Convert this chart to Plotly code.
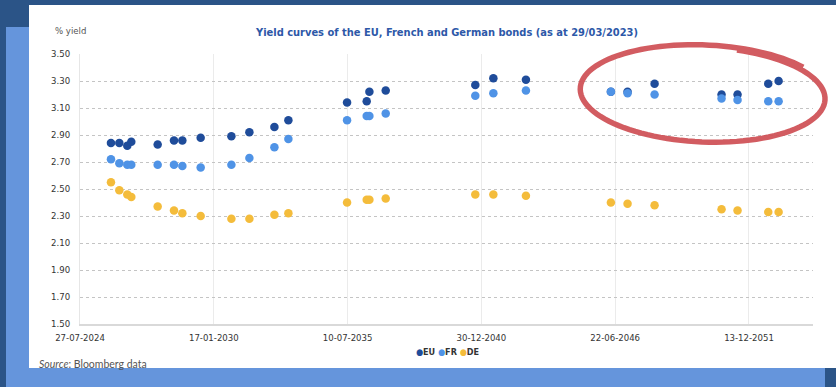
import math
import plotly.graph_objects as go

# ---------------- data ----------------
maturity = ["2025-11-02", "2026-03-07", "2026-07-04", "2026-09-02", "2027-10-01",
            "2028-06-01", "2028-10-04", "2029-07-05", "2030-10-07", "2031-07-03",
            "2032-07-11", "2033-02-05", "2035-07-02", "2036-04-21", "2036-05-31",
            "2037-01-30", "2040-09-30", "2041-06-27", "2042-10-27", "2046-04-19",
            "2046-12-24", "2048-02-01", "2050-10-29", "2051-06-25", "2052-09-26",
            "2053-02-28"]
eu = [2.84, 2.84, 2.82, 2.85, 2.83, 2.86, 2.86, 2.88, 2.89, 2.92, 2.96, 3.01,
      3.14, 3.15, 3.22, 3.23, 3.27, 3.32, 3.31, 3.22, 3.22, 3.28, 3.20, 3.20,
      3.28, 3.30]
fr = [2.72, 2.69, 2.68, 2.68, 2.68, 2.68, 2.67, 2.66, 2.68, 2.73, 2.81, 2.87,
      3.01, 3.04, 3.04, 3.06, 3.19, 3.21, 3.23, 3.22, 3.21, 3.20, 3.17, 3.16,
      3.15, 3.15]
de = [2.55, 2.49, 2.46, 2.44, 2.37, 2.34, 2.32, 2.30, 2.28, 2.28, 2.31, 2.32,
      2.40, 2.42, 2.42, 2.43, 2.46, 2.46, 2.45, 2.40, 2.39, 2.38, 2.35, 2.34,
      2.33, 2.33]

x_ticks = ["2024-07-27", "2030-01-17", "2035-07-10", "2040-12-30", "2046-06-22", "2051-12-13"]
x_tick_labels = ["27-07-2024", "17-01-2030", "10-07-2035", "30-12-2040", "22-06-2046", "13-12-2051"]
y_ticks = [1.50, 1.70, 1.90, 2.10, 2.30, 2.50, 2.70, 2.90, 3.10, 3.30, 3.50]

series_names = ["EU", "FR", "DE"]
series_colors = ["#1f4c9a", "#4f93e6", "#f4bc3b"]

# ---------------- layout geometry ----------------
W, H = 836, 387
L, R, T, B = 80, 23, 54, 63
PW, PH = W - L - R, H - T - B

def px(x):
    return (x - L) / PW

def py(y):
    return (H - B - y) / PH

NARROW = "Liberation Sans Narrow, Arial Narrow, DejaVu Sans Condensed, sans-serif"

fig = go.Figure()
for name, vals, col in zip(series_names, [eu, fr, de], series_colors):
    fig.add_trace(go.Scatter(x=maturity, y=vals, mode="markers", name=name,
                             marker=dict(size=8.5, color=col), showlegend=False))

DARK = "#2b5487"
LIGHT = "#6595dc"
shapes = [
    dict(type="rect", xref="paper", yref="paper", x0=px(6), x1=px(29), y0=py(387), y1=py(27),
         fillcolor=LIGHT, line_width=0, layer="below"),
    dict(type="rect", xref="paper", yref="paper", x0=px(6), x1=px(825), y0=py(387), y1=py(368),
         fillcolor=LIGHT, line_width=0, layer="below"),
    dict(type="rect", xref="paper", yref="paper", x0=px(29), x1=px(836), y0=py(368), y1=py(5),
         fillcolor="white", line_width=0, layer="below"),
]

# hand drawn red ellipse (annotation decoration)
cx, cy, rx, ry, rot = 704, 94, 120, 47, math.radians(2.5)
pts = []
n = 120
start = math.radians(-75)
for i in range(n + 1):
    t = start + 2 * math.pi * 1.1 * i / n
    k = 1 + 0.05 * i / n
    ex, ey = rx * k * math.cos(t), ry * k * math.sin(t)
    X = cx + ex * math.cos(rot) - ey * math.sin(rot)
    Y = cy + ex * math.sin(rot) + ey * math.cos(rot)
    pts.append((px(X), py(Y)))
path = "M " + " L ".join(f"{a:.5f},{b:.5f}" for a, b in pts)
shapes.append(dict(type="path", xref="paper", yref="paper", path=path,
                   line=dict(color="rgba(206,78,84,0.92)", width=5.5), layer="above"))

legend_text = " ".join(
    f"<span style='color:{c}'>●</span>{nm}" for nm, c in zip(series_names, series_colors))

annotations = [
    dict(text="% yield", xref="paper", yref="paper", x=px(53), y=py(30), xanchor="left",
         yanchor="middle", showarrow=False, font=dict(family=NARROW, size=9.5, color="#555555")),
    dict(text="<i>Source</i>: Bloomberg data", xref="paper", yref="paper", x=px(37), y=py(364),
         xanchor="left", yanchor="middle", showarrow=False,
         font=dict(family="Lato, Open Sans, sans-serif", size=10.5, color="#555555")),
    dict(text="<b>" + legend_text + "</b>", xref="paper", yref="paper", x=px(447), y=py(352),
         xanchor="center", yanchor="middle", showarrow=False,
         font=dict(family=NARROW, size=9, color="#333333")),
]

fig.update_layout(
    width=W, height=H,
    margin=dict(l=L, r=R, t=T, b=B),
    paper_bgcolor=DARK, plot_bgcolor="white",
    title=dict(text="<b>Yield curves of the EU, French and German bonds (as at 29/03/2023)</b>",
               x=px(447), xref="paper", xanchor="center", y=1 - 32 / H, yref="container",
               yanchor="middle", font=dict(family=NARROW, size=11, color="#2d58a8")),
    shapes=shapes, annotations=annotations,
    showlegend=False,
    xaxis=dict(type="date", range=["2024-07-27", "2054-07-27"], tickvals=x_ticks,
               ticktext=x_tick_labels, showgrid=True, gridcolor="#ebebeb", gridwidth=1,
               showline=True, linecolor="#d9d9d9", linewidth=1.5, zeroline=False,
               ticks="", ticklabelstandoff=4,
               tickfont=dict(family=NARROW, size=9.5, color="#333333")),
    yaxis=dict(range=[1.5, 3.5], tickvals=y_ticks, tickformat=".2f", showgrid=True,
               gridcolor="#c4c4c4", griddash="dot", gridwidth=1.2,
               showline=True, linecolor="#e6e6e6", linewidth=1, zeroline=False,
               ticks="", ticklabelstandoff=7,
               tickfont=dict(family=NARROW, size=9.5, color="#333333")),
)

fig.write_html("out.html", config={"displayModeBar": False},
               post_script="document.body.style.margin='0';document.body.style.background='#2b5487';")
